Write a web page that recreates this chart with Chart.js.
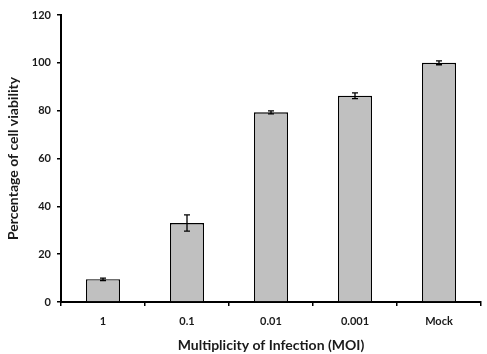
<!DOCTYPE html>
<html>
<head>
<meta charset="utf-8">
<script src="https://cdn.jsdelivr.net/npm/chart.js@4"></script>
<style>
  html, body { margin: 0; padding: 0; background: #fff; }
  #wrap { width: 487px; height: 354px; }
</style>
</head>
<body>
<div id="wrap"><canvas id="chart" width="487" height="354"></canvas></div>
<script>
// valeurs
const categories = ["1", "0.1", "0.01", "0.001", "Mock"];
const viability = [9.5, 33, 79.3, 86.2, 100];
const errors = [0.5, 3.4, 0.6, 1.2, 0.8];
const yTicks = [0, 20, 40, 60, 80, 100, 120];

const FONT = "Lato, 'Open Sans', sans-serif";

// barres d'erreur dessinées via les échelles
const errorBars = {
  id: "errorBars",
  afterDatasetsDraw(chart) {
    const ctx = chart.ctx;
    const meta = chart.getDatasetMeta(0);
    const y = chart.scales.y;
    ctx.save();
    ctx.strokeStyle = "#000";
    ctx.lineWidth = 1.3;
    meta.data.forEach((bar, i) => {
      const top = y.getPixelForValue(viability[i] + errors[i]);
      const bot = y.getPixelForValue(viability[i] - errors[i]);
      const x = bar.x;
      ctx.beginPath();
      ctx.moveTo(x, top); ctx.lineTo(x, bot);
      ctx.moveTo(x - 3, top); ctx.lineTo(x + 3, top);
      ctx.moveTo(x - 3, bot); ctx.lineTo(x + 3, bot);
      ctx.stroke();
    });
    ctx.restore();
  }
};

new Chart(document.getElementById("chart"), {
  type: "bar",
  data: {
    labels: categories,
    datasets: [{
      data: viability,
      backgroundColor: "#c0c0c0",
      borderColor: "#000",
      borderWidth: 1.3,
      categoryPercentage: 0.405,
      barPercentage: 1.0
    }]
  },
  options: {
    responsive: false,
    animation: false,
    layout: { padding: { top: 15, right: 6, left: 0, bottom: 0 } },
    plugins: { legend: { display: false }, tooltip: { enabled: false } },
    scales: {
      x: {
        offset: true,
        afterFit(scale) { scale.height = 52; },
        grid: { offset: true, drawOnChartArea: false, tickLength: 4, color: "#000", lineWidth: 1.5 },
        border: { color: "#000", width: 2 },
        ticks: { color: "#1a1a1a", font: { family: FONT, size: 11, weight: "bold" }, padding: 9 },
        title: { display: true, text: "Multiplicity of Infection (MOI)", color: "#1a1a1a",
                 font: { family: FONT, size: 14, weight: "bold" }, padding: { top: 0, bottom: 0 } }
      },
      y: {
        min: 0, max: 120,
        afterFit(scale) { scale.width = 61; },
        afterBuildTicks(scale) { scale.ticks = yTicks.map(v => ({ value: v })); },
        grid: { drawOnChartArea: false, tickLength: 4, color: "#000", lineWidth: 1.5 },
        border: { color: "#000", width: 2 },
        ticks: { color: "#1a1a1a", font: { family: FONT, size: 11, weight: "bold" }, padding: 6 },
        title: { display: true, text: "Percentage of cell viability", color: "#1a1a1a",
                 font: { family: FONT, size: 14, weight: "bold" }, padding: { top: 5, bottom: 0 } }
      }
    }
  },
  plugins: [errorBars]
});
</script>
</body>
</html>
